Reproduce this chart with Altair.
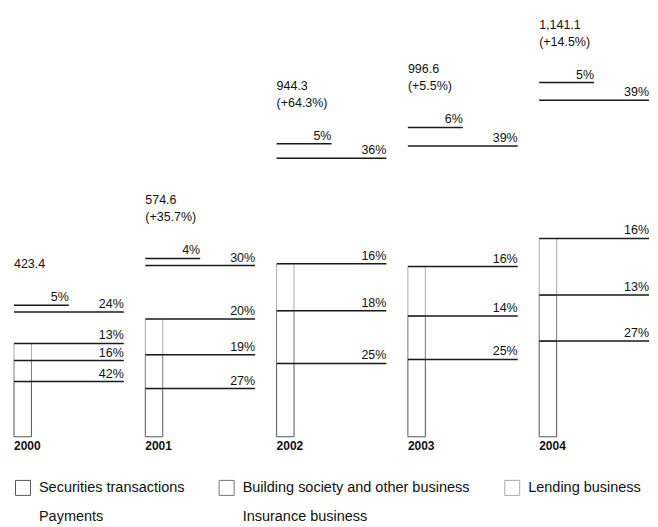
import altair as alt
import pandas as pd

years = ["2000", "2001", "2002", "2003", "2004"]
totals = [423.4, 574.6, 944.3, 996.6, 1141.1]
growth = ["", "+35.7%", "+64.3%", "+5.5%", "+14.5%"]
categories = [
    "Securities transactions",
    "Building society and other business",
    "Lending business",
    "Payments",
    "Insurance business",
]
securities = [42, 27, 25, 25, 27]
building = [16, 19, 18, 14, 13]
lending = [13, 20, 16, 16, 16]
payments = [24, 30, 36, 39, 39]
insurance = [5, 4, 5, 6, 5]
share_lists = [securities, building, lending, payments, insurance]

rows = []
for i, yr in enumerate(years):
    for k, cat in enumerate(categories):
        rows.append({"idx": i, "year": yr, "cat": cat, "order": k,
                     "pct": share_lists[k][i], "total": totals[i]})
df = pd.DataFrame(rows)

tot_rows = []
for i, yr in enumerate(years):
    tot_rows.append({"idx": i, "year": yr, "total": totals[i],
                     "num": f"{totals[i]:,.1f}",
                     "gr": f"({growth[i]})" if growth[i] else "",
                     "has_gr": 1 if growth[i] else 0})
tdf = pd.DataFrame(tot_rows)

FONT = "Liberation Sans, Arial, sans-serif"
xs = alt.Scale(domain=[-0.0456, 4.8365], nice=False, zero=False)
ys = alt.Scale(domain=[0, 1380], nice=False, zero=True)

base = (
    alt.Chart(df)
    .transform_calculate(value="datum.total * datum.pct / 100")
    .transform_stack(stack="value", groupby=["year"],
                     sort=[alt.SortField("order", order="ascending")],
                     as_=["y0", "y1"])
    .transform_calculate(
        xb="datum.idx + 0.133",
        xl="datum.idx + (datum.cat == 'Insurance business' ? 0.418 : 0.8365)",
        plab="datum.pct + '%'",
    )
)

leg = dict(orient="none", legendX=7, legendY=472, columns=3, direction="horizontal",
           title=None, symbolType="square", symbolSize=225, symbolStrokeWidth=1,
           symbolFillColor="white", labelFontSize=14.5, labelFont=FONT,
           labelColor="#111", labelOffset=8, columnPadding=32, rowPadding=9,
           padding=0, labelLimit=400)

stroke_scale = alt.Scale(domain=categories,
                         range=["#555555", "#777777", "#aaaaaa", "#ffffff", "#ffffff"])
dash_scale = alt.Scale(domain=categories,
                       range=[[1, 0], [1, 0], [2, 2], [1, 0], [1, 0]])

bars = base.mark_rect(fill="white", strokeWidth=1).encode(
    x=alt.X("idx:Q", scale=xs, axis=None),
    x2="xb:Q",
    y=alt.Y("y0:Q", scale=ys, axis=None),
    y2="y1:Q",
    stroke=alt.Stroke("cat:N", scale=stroke_scale, legend=alt.Legend(**leg),
                      sort=categories),
    strokeDash=alt.StrokeDash("cat:N", scale=dash_scale, legend=alt.Legend(**leg),
                              sort=categories),
)

rules = base.mark_rule(color="#1a1a1a", strokeWidth=1.5).encode(
    x=alt.X("idx:Q", scale=xs, axis=None),
    x2="xl:Q",
    y=alt.Y("y1:Q", scale=ys, axis=None),
)

pct_text = base.mark_text(align="right", baseline="bottom", dy=-1,
                          fontSize=12.5, font=FONT, color="#111").encode(
    x=alt.X("xl:Q", scale=xs, axis=None),
    y=alt.Y("y1:Q", scale=ys, axis=None),
    text="plab:N",
)

tbase = alt.Chart(tdf)
txt_style = dict(align="left", baseline="bottom", fontSize=12.5, font=FONT, color="#111")

# bottom line of each total label: growth if present, otherwise the total itself
num_single = tbase.transform_filter("datum.has_gr == 0").mark_text(dy=-34, **txt_style).encode(
    x=alt.X("idx:Q", scale=xs, axis=None),
    y=alt.Y("total:Q", scale=ys, axis=None),
    text="num:N",
)
num_double = tbase.transform_filter("datum.has_gr == 1").mark_text(dy=-51, **txt_style).encode(
    x=alt.X("idx:Q", scale=xs, axis=None),
    y=alt.Y("total:Q", scale=ys, axis=None),
    text="num:N",
)
gr_text = tbase.transform_filter("datum.has_gr == 1").mark_text(dy=-34, **txt_style).encode(
    x=alt.X("idx:Q", scale=xs, axis=None),
    y=alt.Y("total:Q", scale=ys, axis=None),
    text="gr:N",
)

year_text = tbase.mark_text(align="left", baseline="top", dy=4,
                            fontSize=12, fontWeight="bold", font=FONT,
                            color="#111").encode(
    x=alt.X("idx:Q", scale=xs, axis=None),
    y=alt.value(429),
    text="year:N",
)

chart = (
    alt.layer(bars, rules, pct_text, num_single, num_double, gr_text, year_text)
    .properties(width=642, height=429, padding=0, background="white")
    .configure_view(stroke=None)
)

chart.save("out.html", embed_options={"renderer": "svg", "actions": False})
